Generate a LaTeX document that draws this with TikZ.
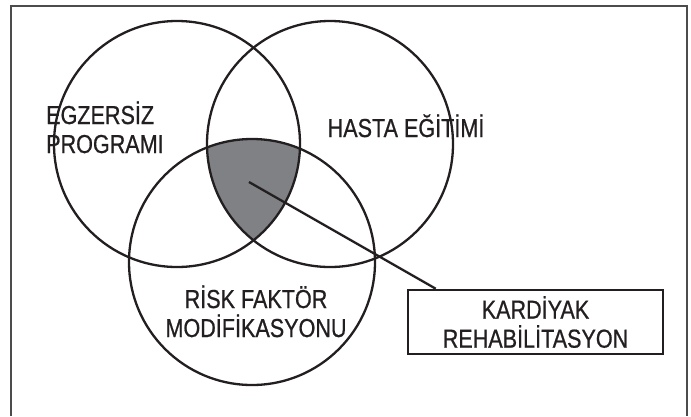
\documentclass[tikz,border=0pt]{standalone}
\usepackage{fontspec}
\newfontfamily\narrowsans[FakeStretch=0.83,FakeBold=0.7]{Liberation Sans}
\usetikzlibrary{backgrounds,calc}

\definecolor{ink}{RGB}{35,31,32}
\definecolor{coregray}{RGB}{128,129,133}

\begin{document}
\begin{tikzpicture}[
    x = 1pt,
    y = -1pt,
    ring/.style={
        draw = ink,
        circle,
        line width = 2.3pt,
        minimum size = 246pt,
        inner sep = 0pt,
        },
    venntext/.style={
        text = ink,
        font = \narrowsans\fontsize{26}{29}\selectfont,
        inner sep = 0pt,
        },
    resultbox/.style={
        venntext,
        draw = ink,
        line width = 2.6pt,
        minimum width = 255pt,
        minimum height = 64pt,
        align = center,
        },
]

\useasboundingbox (0,0) rectangle (691,416);
\draw[gray!60!black, line width=1.2pt] (11,416) -- (11,6) -- (687,6) -- (687,416);

\node[ring] (egzersiz) at (177,144) {};
\node[ring] (egitim) at (330,144) {};
\node[ring] (risk) at (252,262) {};

% the part all three share
\begin{scope}[on background layer]
    \clip (egzersiz.center) circle (123pt);
    \clip (egitim.center) circle (123pt);
    \fill[coregray] (risk.center) circle (123pt);
\end{scope}

\node[venntext, align=left, anchor=base west] (egzersiztext) at (46,153) {EGZERSİZ\\PROGRAMI};
\node[venntext, anchor=base] (egitimtext) at (406,137) {HASTA EĞİTİMİ};
\node[venntext, align=center, anchor=base] (risktext) at (256,337) {RİSK FAKTÖR\\MODİFİKASYONU};

\node[resultbox] (kardiyak) at (535.5,322) {KARDİYAK\\REHABİLİTASYON};

\coordinate (core) at (249,182);
\draw[ink, line width=2.3pt] (core) -- ($(kardiyak.north west)+(29,0)$);

\end{tikzpicture}
\end{document}
